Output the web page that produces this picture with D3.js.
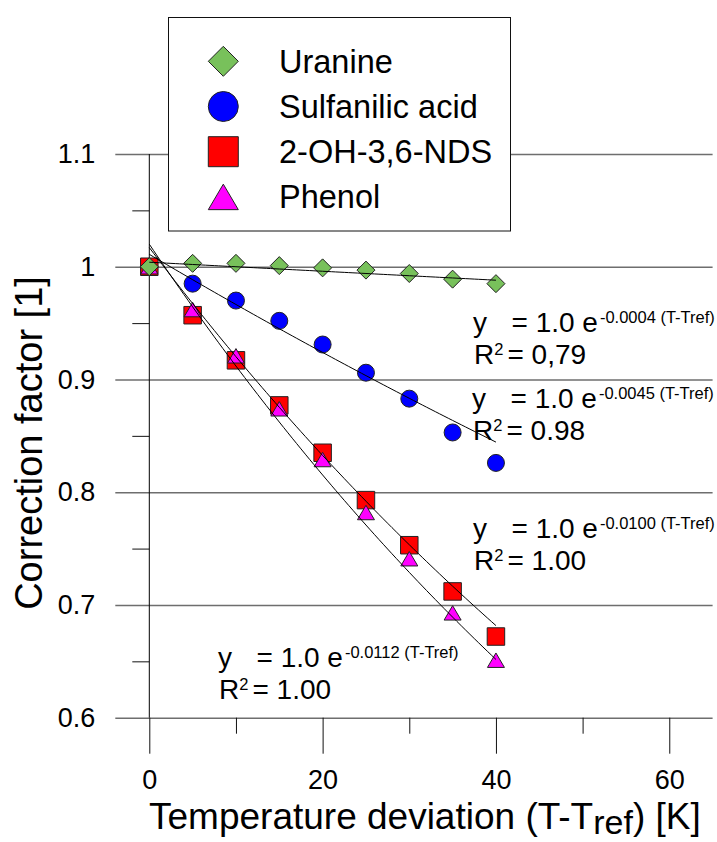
<!DOCTYPE html>
<html>
<head>
<meta charset="utf-8">
<script src="https://cdn.jsdelivr.net/npm/d3@7"></script>
<style>
  html, body { margin: 0; padding: 0; background: #fff; }
  svg { display: block; }
  text { font-family: "Liberation Sans", Arial, sans-serif; fill: #000; }
</style>
</head>
<body>
<svg id="chart" width="717" height="842"></svg>
<script>
// Temperature deviation (K) at which each correction factor was measured
const temps = [0, 5, 10, 15, 20, 25, 30, 35, 40];

// Correction factors per tracer
const uranine    = [1.000, 1.003, 1.003, 1.001, 0.999, 0.997, 0.994, 0.989, 0.985];
const sulfanilic = [1.000, 0.985, 0.970, 0.952, 0.931, 0.906, 0.883, 0.853, 0.826];
const nds        = [1.000, 0.957, 0.917, 0.877, 0.835, 0.793, 0.753, 0.712, 0.672];
const phenol     = [1.000, 0.962, 0.921, 0.874, 0.829, 0.782, 0.741, 0.693, 0.651];

const seriesNames = ["Uranine", "Sulfanilic acid", "2-OH-3,6-NDS", "Phenol"];

// Exponential fits y = a * exp(-b * (T - Tref))
const fitA = [1.004, 1.011, 1.017, 1.020];
const fitB = [0.0004, 0.0045, 0.0100, 0.0112];
const fitBLabels = ["-0.0004", "-0.0045", "-0.0100", "-0.0112"];
const r2Labels = ["0,79", "0.98", "1.00", "1.00"];

// Axis ticks
const yMajor = [0.6, 0.7, 0.8, 0.9, 1.0, 1.1];
const yTickLabels = ["0.6", "0.7", "0.8", "0.9", "1", "1.1"];
const yMinor = [0.65, 0.75, 0.85, 0.95, 1.05];
const xMajor = [0, 20, 40, 60];
const xTickLabels = ["0", "20", "40", "60"];
const xMinor = [10, 30, 50];

// ---- layout ----
const svg = d3.select("#chart");
const x = d3.scaleLinear().domain([0, 65]).range([149.3, 712.6]);
const y = d3.scaleLinear().domain([0.6, 1.1]).range([717.7, 154]);

const FONT_TICK = 27, FONT_LEGEND = 32.5, FONT_ANNO = 28, FONT_SUP = 16.5;

// marker shapes, sized by their bounding width
const shapes = {
  diamond: { draw(ctx, size) { const r = Math.sqrt(size) / 2;
    ctx.moveTo(0, -r); ctx.lineTo(r, 0); ctx.lineTo(0, r); ctx.lineTo(-r, 0); ctx.closePath(); } },
  circle: { draw(ctx, size) { const r = Math.sqrt(size) / 2;
    ctx.moveTo(r, 0); ctx.arc(0, 0, r, 0, 2 * Math.PI); ctx.closePath(); } },
  square: { draw(ctx, size) { const r = Math.sqrt(size) / 2;
    ctx.rect(-r, -r, 2 * r, 2 * r); } },
  triangle: { draw(ctx, size) { const w = Math.sqrt(size), h = w * 0.85;
    ctx.moveTo(0, -h / 2); ctx.lineTo(w / 2, h / 2); ctx.lineTo(-w / 2, h / 2); ctx.closePath(); } }
};

const series = [
  { name: seriesNames[0], values: uranine,    shape: "diamond",  color: "#78c15b", w: 18,   lw: 30 },
  { name: seriesNames[1], values: sulfanilic, shape: "circle",   color: "#0000ff", w: 17,   lw: 30 },
  { name: seriesNames[2], values: nds,        shape: "square",   color: "#ff0000", w: 17.5, lw: 30 },
  { name: seriesNames[3], values: phenol,     shape: "triangle", color: "#ff00ff", w: 17,   lw: 30 }
];
series.forEach((s, i) => { s.a = fitA[i]; s.b = fitB[i]; s.bLabel = fitBLabels[i]; s.r2 = r2Labels[i]; });

// ---- grid lines ----
svg.append("g")
  .attr("transform", `translate(${x(0)},0)`)
  .call(d3.axisLeft(y).tickValues(yMajor).tickSize(-(x(65) - x(0))).tickFormat(""))
  .call(g => g.select(".domain").remove())
  .call(g => g.selectAll("line").attr("stroke", "#6e6e6e").attr("stroke-width", 1.5));

// ---- y axis: major ticks with labels, minor ticks ----
svg.append("g")
  .attr("transform", `translate(${x(0)},0)`)
  .call(d3.axisLeft(y).tickValues(yMajor).tickSize(34).tickPadding(20)
    .tickFormat((d, i) => yTickLabels[i]))
  .call(g => g.select(".domain").remove())
  .call(g => g.selectAll("line").attr("stroke", "#6e6e6e").attr("stroke-width", 1.5))
  .call(g => g.selectAll("text").attr("font-size", FONT_TICK)
    .attr("font-family", "Liberation Sans, Arial, sans-serif").attr("fill", "#000"));

svg.append("g")
  .attr("transform", `translate(${x(0)},0)`)
  .call(d3.axisLeft(y).tickValues(yMinor).tickSize(17).tickFormat(""))
  .call(g => g.select(".domain").remove())
  .call(g => g.selectAll("line").attr("stroke", "#111").attr("stroke-width", 1));

// ---- x axis: major ticks with labels, minor ticks ----
svg.append("g")
  .attr("transform", `translate(0,${y(0.6)})`)
  .call(d3.axisBottom(x).tickValues(xMajor).tickSize(36).tickPadding(16)
    .tickFormat((d, i) => xTickLabels[i]))
  .call(g => g.select(".domain").remove())
  .call(g => g.selectAll("line").attr("stroke", "#111").attr("stroke-width", 1))
  .call(g => g.selectAll("text").attr("font-size", FONT_TICK)
    .attr("font-family", "Liberation Sans, Arial, sans-serif").attr("fill", "#000"));

svg.append("g")
  .attr("transform", `translate(0,${y(0.6)})`)
  .call(d3.axisBottom(x).tickValues(xMinor).tickSize(16).tickFormat(""))
  .call(g => g.select(".domain").remove())
  .call(g => g.selectAll("line").attr("stroke", "#111").attr("stroke-width", 1));

// vertical axis line at T - Tref = 0
svg.append("line")
  .attr("x1", x(0)).attr("x2", x(0))
  .attr("y1", y(1.1)).attr("y2", y(0.6))
  .attr("stroke", "#000").attr("stroke-width", 1);

// ---- axis titles ----
svg.append("text")
  .attr("transform", `translate(42,443) rotate(-90)`)
  .attr("text-anchor", "middle")
  .attr("font-size", 38)
  .text("Correction factor [1]");

const xTitle = svg.append("text")
  .attr("x", 149).attr("y", 829)
  .attr("font-size", 37);
xTitle.append("tspan").text("Temperature deviation (T-T");
xTitle.append("tspan").attr("dy", 5).attr("font-size", 34).text("ref");
xTitle.append("tspan").attr("dy", -5).text(") [K]");

// ---- legend ----
const legend = svg.append("g");
legend.append("rect")
  .attr("x", 168.5).attr("y", 17.5).attr("width", 342).attr("height", 213.5)
  .attr("fill", "#fff").attr("stroke", "#111").attr("stroke-width", 1);
series.forEach((s, i) => {
  const cy = 61.3 + i * 45.2;
  legend.append("path")
    .attr("transform", `translate(223.3,${cy})`)
    .attr("d", d3.symbol().type(shapes[s.shape]).size(s.lw * s.lw)())
    .attr("fill", s.color).attr("stroke", "#222").attr("stroke-width", 1);
  legend.append("text")
    .attr("x", 279).attr("y", cy + 11.5)
    .attr("font-size", FONT_LEGEND)
    .text(s.name);
});

// ---- data markers (drawn so that uranine ends up on top) ----
const drawOrder = [1, 2, 3, 0];
drawOrder.forEach(k => {
  const s = series[k];
  svg.append("g").selectAll("path")
    .data(temps.map((t, i) => ({ t, v: s.values[i] })))
    .join("path")
    .attr("transform", d => `translate(${x(d.t)},${y(d.v)})`)
    .attr("d", d3.symbol().type(shapes[s.shape]).size(s.w * s.w)())
    .attr("fill", s.color).attr("stroke", "#222").attr("stroke-width", 1);
});

// ---- fitted exponential curves ----
const fitLine = d3.line().x(d => x(d[0])).y(d => y(d[1]));
const fitT = d3.range(0, 40.001, 0.5);
series.forEach(s => {
  svg.append("path")
    .attr("d", fitLine(fitT.map(t => [t, s.a * Math.exp(-s.b * t)])))
    .attr("fill", "none").attr("stroke", "#000").attr("stroke-width", 1);
});

// ---- fit equations ----
const annoPos = [[473, 331.7], [472, 408.3], [473, 538.3], [218, 667.3]];
series.forEach((s, i) => {
  const [ax, ay] = annoPos[i];
  const l1 = svg.append("text").attr("x", ax).attr("y", ay).attr("font-size", FONT_ANNO);
  l1.append("tspan").text("y");
  l1.append("tspan").attr("x", ax + 38.5).text("= 1.0 e");
  l1.append("tspan").attr("dx", 2).attr("dy", -9).attr("font-size", FONT_SUP)
    .text(`${s.bLabel} (T-Tref)`);

  const l2 = svg.append("text").attr("x", ax + 1).attr("y", ay + 32).attr("font-size", FONT_ANNO);
  l2.append("tspan").text("R");
  l2.append("tspan").attr("dy", -9).attr("font-size", FONT_SUP).text("2");
  l2.append("tspan").attr("dx", 4).attr("dy", 9).text(`= ${s.r2}`);
});
</script>
</body>
</html>
